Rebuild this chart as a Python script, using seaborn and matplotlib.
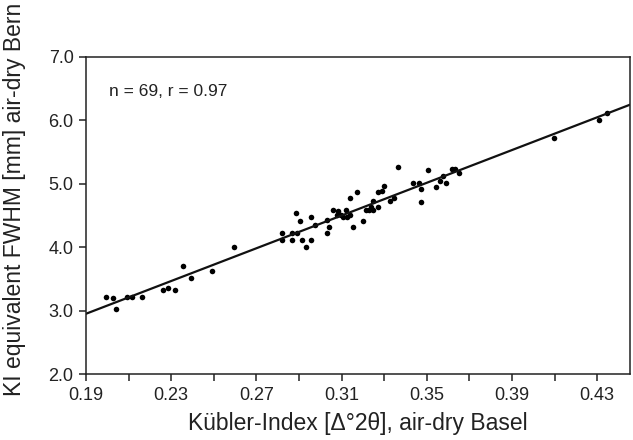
import matplotlib
matplotlib.use('Agg')
import matplotlib.pyplot as plt
import seaborn as sns
import pandas as pd
import numpy as np
from matplotlib.ticker import FixedLocator

# Kübler-Index (Basel) vs. KI equivalent FWHM (Bern)
ki_basel = [
    0.1992, 0.2025, 0.2042, 0.2091, 0.2115, 0.2163, 0.2263, 0.2286, 0.2316, 0.2354,
    0.2393, 0.2493, 0.2593, 0.2819, 0.2819, 0.2866, 0.2866, 0.2886, 0.2889, 0.2906,
    0.2916, 0.2934, 0.2955, 0.2955, 0.2977, 0.3031, 0.3031, 0.3042, 0.3058, 0.3077,
    0.3084, 0.3096, 0.3105, 0.3121, 0.3127, 0.3139, 0.3139, 0.3152, 0.3172, 0.3200,
    0.3215, 0.3230, 0.3238, 0.3249, 0.3249, 0.3270, 0.3272, 0.3288, 0.3298, 0.3327,
    0.3346, 0.3363, 0.3434, 0.3463, 0.3473, 0.3474, 0.3504, 0.3545, 0.3562, 0.3577,
    0.3592, 0.3617, 0.3634, 0.3651, 0.4097, 0.4310, 0.4345,
]
fwhm_bern = [
    3.21, 3.20, 3.03, 3.21, 3.21, 3.22, 3.32, 3.36, 3.32, 3.71,
    3.51, 3.62, 4.01, 4.22, 4.12, 4.22, 4.11, 4.54, 4.23, 4.42,
    4.12, 4.01, 4.47, 4.12, 4.35, 4.43, 4.22, 4.32, 4.58, 4.50,
    4.57, 4.51, 4.47, 4.58, 4.47, 4.77, 4.51, 4.32, 4.87, 4.42,
    4.58, 4.58, 4.64, 4.73, 4.58, 4.87, 4.63, 4.88, 4.97, 4.73,
    4.78, 5.26, 5.02, 5.02, 4.92, 4.71, 5.21, 4.95, 5.05, 5.12,
    5.02, 5.23, 5.24, 5.17, 5.72, 6.01, 6.11,
]
x_major = [0.19, 0.23, 0.27, 0.31, 0.35, 0.39, 0.43]
x_minor = [0.21, 0.25, 0.29, 0.33, 0.37, 0.41]
y_ticks = [2.0, 3.0, 4.0, 5.0, 6.0, 7.0]

df = pd.DataFrame({'basel': ki_basel, 'bern': fwhm_bern})

sns.set_style('ticks')
plt.rcParams['font.family'] = ['Liberation Sans', 'DejaVu Sans']

fig = plt.figure(figsize=(6.33, 4.40), dpi=100)
ax = fig.add_axes([0.1359, 0.15, 0.8594, 0.7205])
ax.set_xlim(0.19, 0.4454)
ax.set_ylim(2.0, 7.0)

sns.regplot(data=df, x='basel', y='bern', ax=ax, ci=None, truncate=False,
            scatter_kws={'s': 16, 'color': 'black', 'linewidths': 0, 'alpha': 1},
            line_kws={'color': '#111111', 'linewidth': 1.6})

ax.set_xlim(0.19, 0.4454)
ax.set_ylim(2.0, 7.0)
ax.xaxis.set_major_locator(FixedLocator(x_major))
ax.xaxis.set_minor_locator(FixedLocator(x_minor))
ax.yaxis.set_major_locator(FixedLocator(y_ticks))
ax.set_xticklabels([f'{v:.2f}' for v in x_major])
ax.set_yticklabels([f'{v:.1f}' for v in y_ticks])
ax.tick_params(axis='both', which='both', direction='out', length=5, width=1.1,
               color='#222222', labelsize=13, pad=4, labelcolor='#222222')

for side in ['top', 'right', 'left', 'bottom']:
    ax.spines[side].set_visible(True)
    ax.spines[side].set_linewidth(1.1)
    ax.spines[side].set_color('#222222')

ax.set_xlabel('Kübler-Index [Δ°2θ], air-dry Basel', fontsize=16.5, labelpad=6,
              color='#222222')
ax.set_ylabel('KI equivalent FWHM [mm] air-dry Bern', fontsize=16.5,
              color='#222222')
ax.yaxis.set_label_coords(-0.11, 0.55)
ax.text(0.042, 0.89, 'n = 69, r = 0.97', transform=ax.transAxes,
        fontsize=12.5, ha='left', va='center', color='#222222')

plt.savefig('out.png', dpi=100)
plt.close()
